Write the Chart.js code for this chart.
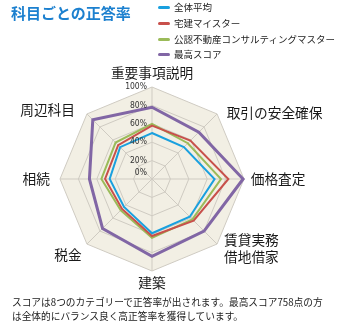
<!DOCTYPE html>
<html><head><meta charset="utf-8">
<script src="https://cdn.jsdelivr.net/npm/chart.js@4/dist/chart.umd.min.js"></script>
<style>
html,body{margin:0;padding:0;background:#fff;}
#wrap{position:relative;width:343px;height:327px;overflow:hidden;font-family:"Noto Sans CJK JP","Noto Sans",sans-serif;}
#title{position:absolute;left:11px;top:3px;font-size:15px;font-weight:bold;color:#1c80cf;line-height:20px;white-space:nowrap;}
.lg{position:absolute;left:158px;font-size:9.5px;line-height:12px;height:12px;color:#222;white-space:nowrap;}
.lg i{display:inline-block;width:12px;height:3px;border-radius:2px;vertical-align:middle;margin-right:4px;position:relative;top:-1px;}
#cap{position:absolute;left:12px;top:294.5px;font-size:9.7px;line-height:14px;color:#1a1a1a;white-space:nowrap;}
canvas{position:absolute;left:0;top:0;}
</style></head>
<body>
<div id="wrap">
<canvas id="c" width="343" height="327"></canvas>
<div id="title">科目ごとの正答率</div>
<div id="legend"></div>
<div id="cap">スコアは8つのカテゴリーで正答率が出されます。最高スコア758点の方<br>は全体的にバランス良く高正答率を獲得しています。</div>
</div>
<script>
const categories = ['重要事項説明','取引の安全確保','価格査定',['賃貸実務','借地借家'],'建築','税金','相続','周辺科目'];
const seriesNames = ['全体平均','宅建マイスター','公認不動産コンサルティングマスター','最高スコア'];
const avgValues = [50,49,68,58,59,43,46,49];
const meisterValues = [58,59,83,64,62,46,51,52];
const consultValues = [60,55,75,62,64,48,55,56];
const topValues = [78,72,99,80,84,76,68,91];
const tickValues = [0,20,40,60,80,100];

const colors = ['#19a0df','#c8504b','#9bbb59','#8166a5'];
const widths = [2,2,2,3];
const seriesValues = [avgValues, meisterValues, consultValues, topValues];

// HTML legend
const legendTops = [1,17,33,48];
const lg = document.getElementById('legend');
seriesNames.forEach((n,i)=>{
  const d = document.createElement('div');
  d.className='lg'; d.style.top = legendTops[i]+'px';
  d.innerHTML = '<i style="background:'+colors[i]+'"></i>'+n;
  lg.appendChild(d);
});

const labelOffsets = [[0,-14.5],[9.6,-1],[6.7,0],[7,4.3],[0,12],[-5.2,10.4],[-10,0],[-12,-4]];

const decor = {
  id:'decor',
  beforeDraw(chart){
    const s = chart.scales.r, ctx = chart.ctx;
    ctx.save();
    ctx.beginPath();
    for(let i=0;i<categories.length;i++){
      const p = s.getPointPosition(i, s.drawingArea);
      if(i===0) ctx.moveTo(p.x,p.y); else ctx.lineTo(p.x,p.y);
    }
    ctx.closePath();
    ctx.fillStyle = '#f2efe4';
    ctx.fill();
    ctx.restore();
  },
  afterDraw(chart){
    const s = chart.scales.r, ctx = chart.ctx;
    ctx.save();
    ctx.font = '8.5px "Liberation Sans Narrow","DejaVu Sans Condensed",sans-serif';
    ctx.fillStyle = '#333';
    ctx.textAlign = 'right';
    ctx.textBaseline = 'middle';
    tickValues.forEach(v=>{
      const d = s.getDistanceFromCenterForValue(v);
      const off = v===0 ? -6 : 0;
      ctx.fillText(v+'%', s.xCenter-5, s.yCenter-d+off);
    });
    ctx.font = '13.7px "Noto Sans CJK JP"';
    ctx.fillStyle = '#1a1a1a';
    categories.forEach((lab,i)=>{
      const p = s.getPointPosition(i, s.drawingArea);
      const dx = p.x - s.xCenter;
      ctx.textAlign = Math.abs(dx)<1 ? 'center' : (dx>0 ? 'left' : 'right');
      const x = p.x + labelOffsets[i][0];
      const y = p.y + labelOffsets[i][1];
      const lines = Array.isArray(lab) ? lab : [lab];
      const lh = 16.7;
      lines.forEach((t,k)=>{
        ctx.fillText(t, x, y + (k-(lines.length-1)/2)*lh);
      });
    });
    ctx.restore();
  }
};

new Chart(document.getElementById('c'), {
  type:'radar',
  data:{
    labels: categories,
    datasets: seriesNames.map((n,i)=>({
      label:n, data:seriesValues[i], borderColor:colors[i], backgroundColor:colors[i],
      borderWidth:widths[i], pointRadius:0, pointHoverRadius:0, fill:false, tension:0, clip:false
    }))
  },
  options:{
    responsive:false, animation:false, devicePixelRatio:1,
    layout:{padding:{left:60,right:99,top:87,bottom:56}},
    plugins:{legend:{display:false}, tooltip:{enabled:false}},
    scales:{r:{
      min:0,max:100,
      ticks:{stepSize:20,display:false},
      pointLabels:{display:false},
      grid:{color:'#cfcbc2',lineWidth:1},
      angleLines:{color:'#cfcbc2',lineWidth:1}
    }}
  },
  plugins:[decor]
});
</script>
</body></html>
